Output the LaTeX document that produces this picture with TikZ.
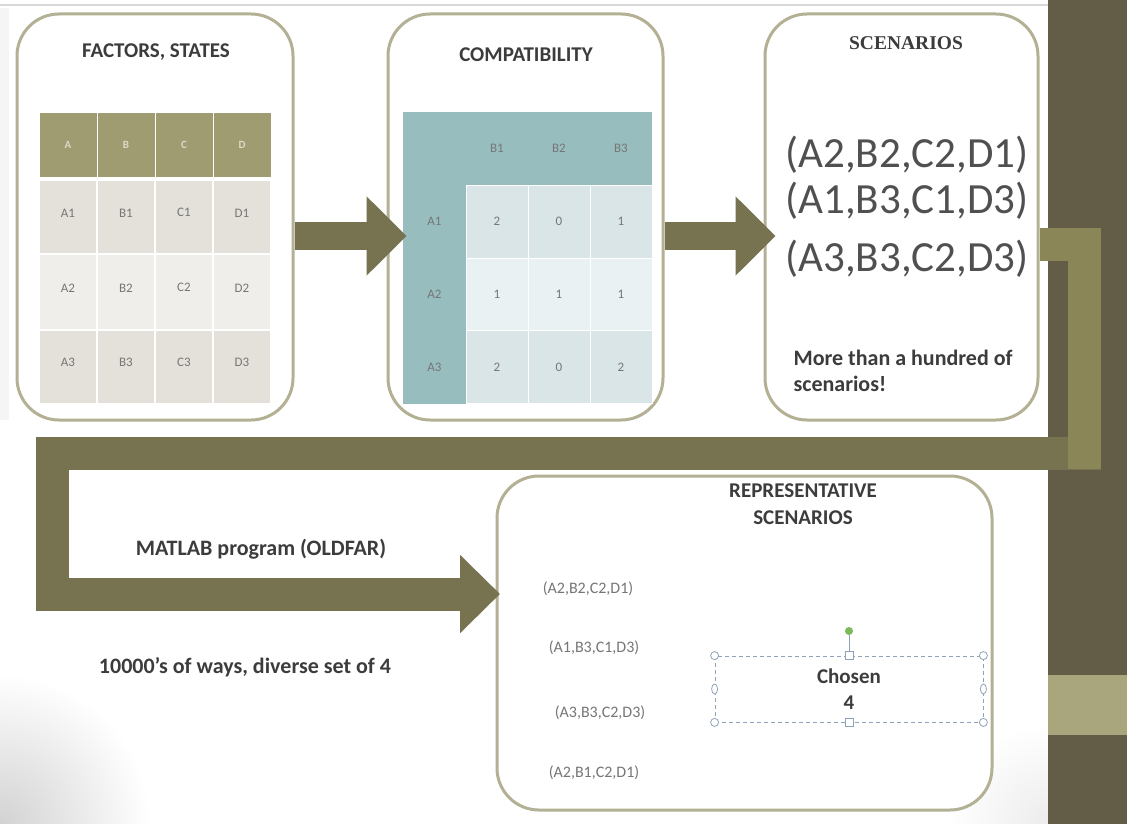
\documentclass[tikz,border=0pt]{standalone}
\usepackage{fontspec}
\setmainfont{Carlito}
\newfontfamily\titleserif{Liberation Serif}
\usetikzlibrary{arrows.meta}

\definecolor{panelline}{HTML}{B3B094}
\definecolor{olivehead}{HTML}{A09C72}
\definecolor{oliveletter}{HTML}{DCD9C6}
\definecolor{rowdark}{HTML}{E3E1DA}
\definecolor{rowlight}{HTML}{F0EEEA}
\definecolor{tealhead}{HTML}{98BDBE}
\definecolor{tealcell}{HTML}{DAE5E7}
\definecolor{teallight}{HTML}{EAF1F3}
\definecolor{flow}{HTML}{777250}
\definecolor{flowlight}{HTML}{8A8658}
\definecolor{banddark}{HTML}{635C46}
\definecolor{bandlight}{HTML}{A9A57D}
\definecolor{textgray}{HTML}{767676}
\definecolor{titlegray}{HTML}{3C3C3C}
\definecolor{handleline}{HTML}{8FA3B8}
\definecolor{rotgreen}{HTML}{7DB85A}

\tikzset{
  panel/.style={draw=panelline, line width=3pt, rounded corners=42pt, fill=white},
  paneltitle/.style={font=\fontsize{21}{27}\selectfont\bfseries, text=titlegray, align=center},
  fhead/.style={fill=olivehead, draw=white, line width=1pt, minimum width=58pt, minimum height=65pt,
    inner sep=0pt, text=oliveletter, font=\fontsize{11}{12}\selectfont\bfseries},
  fcell/.style={draw=white, line width=1.5pt, minimum width=58pt, inner sep=0pt,
    text=textgray, font=\fontsize{13}{14}\selectfont},
  tealbox/.style={fill=tealhead, minimum width=62pt, minimum height=73pt, inner sep=0pt,
    text=textgray, font=\fontsize{13}{14}\selectfont},
  ccell/.style={draw=white, line width=1pt, minimum width=62pt, minimum height=73pt, inner sep=0pt,
    text=textgray, font=\fontsize{13}{14}\selectfont},
  bigscen/.style={font=\fontsize{43}{46}\selectfont, text=titlegray!90},
  repscen/.style={font=\fontsize{16}{20}\selectfont, text=textgray},
  note/.style={font=\fontsize{22}{26}\selectfont\bfseries, text=titlegray},
  flowarrow/.style={draw=flow, line width=28pt, -{Triangle[length=40pt,width=77pt]}},
  bigflow/.style={draw=flow, line width=33pt, line join=miter, -{Triangle[length=40pt,width=76pt]}},
  chosenbox/.style={draw=handleline, line width=0.8pt, dash pattern=on 4pt off 3pt,
    minimum width=268pt, minimum height=66pt, align=center, text=titlegray,
    font=\fontsize{21}{26}\selectfont\bfseries},
  handle/.style={draw=handleline, fill=white, line width=0.8pt}
}

\begin{document}
\begin{tikzpicture}[x=1pt, y=-1pt]
\useasboundingbox (0,0) rectangle (1127,824);
\fill[white] (0,0) rectangle (1127,824);
\fill[gray!8] (0,8) rectangle (9,420);
\draw[gray!30, line width=2pt] (0,5) -- (1048,5);
\begin{scope}
  \clip (0,560) rectangle (1048,824);
  \shade[inner color=gray!35, outer color=white] (0,824) circle (150);
  \shade[inner color=gray!15, outer color=white] (1048,824) circle (100);
\end{scope}
\fill[banddark] (1048,0) rectangle (1127,824);
\fill[bandlight] (1048,675) rectangle (1127,735);

% three panels on top
\node[panel, minimum width=276pt, minimum height=406pt] (factors) at (155,217) {};
\node[panel, minimum width=275pt, minimum height=406pt] (compat) at (525.5,217) {};
\node[panel, minimum width=273pt, minimum height=406pt] (scen) at (901.5,217) {};

\node[paneltitle] (factorstitle) at (156,52) {FACTORS, STATES};
\node[paneltitle] (compattitle) at (526,55) {COMPATIBILITY};
\node[font=\titleserif\bfseries\fontsize{19.5}{22}\selectfont, text=titlegray] (scentitle) at (906,43) {SCENARIOS};

% factors table
\foreach \fac [count=\i] in {A,B,C,D} {
  \node[fhead] (fh\i) at ({10+58*\i},145) {\fac};
  \foreach \r/\y/\ht/\tint in {1/217/74/rowdark, 2/292/76/rowlight, 3/367/74/rowdark}
    \node[fcell, fill=\tint, minimum height=\ht pt] (f\r\i) at ({10+58*\i},\y) {\fac\r};
}

% compatibility table
\node[tealbox, minimum width=63pt] (corner) at (434.5,148.5) {};
\foreach \b [count=\i] in {B1,B2,B3}
  \node[tealbox] (cb\i) at ({435+62*\i},148.5) {\b};
\foreach \a/\y/\tint/\vals [count=\r] in {A1/221.5/tealcell/{2,0,1}, A2/294.5/teallight/{1,1,1}, A3/367/tealcell/{2,0,2}} {
  \node[tealbox, minimum width=63pt] (ca\r) at (434.5,\y) {\a};
  \foreach \v [count=\j] in \vals
    \node[ccell, fill=\tint] (c\r\j) at ({435+62*\j},\y) {\v};
}

% scenarios
\node[bigscen] (s1) at (907,155) {(A2,B2,C2,D1)};
\node[bigscen] (s2) at (907,201) {(A1,B3,C1,D3)};
\node[bigscen] (s3) at (907,259) {(A3,B3,C2,D3)};
\node[note, anchor=west, align=left] (many) at (790,371)
  {More than a hundred of\\scenarios!};

\draw[flowarrow] ([yshift=-19pt]factors.east) -- ([xshift=20pt,yshift=-19pt]compat.west);
\draw[flowarrow] ([yshift=-19pt]compat.east) -- ([xshift=12pt,yshift=-19pt]scen.west);

% representative scenarios
\node[panel, minimum width=495pt, minimum height=334pt] (rep) at (744.5,643) {};
\node[paneltitle] (reptitle) at (803,504) {REPRESENTATIVE\\SCENARIOS};
\node[repscen] (r1) at (588,589) {(A2,B2,C2,D1)};
\node[repscen] (r2) at (594,648) {(A1,B3,C1,D3)};
\node[repscen] (r3) at (600,713) {(A3,B3,C2,D3)};
\node[repscen] (r4) at (594,773) {(A2,B1,C2,D1)};

\coordinate (repin) at (500,594);
\draw[bigflow] ([yshift=-27pt]scen.east) -| (1084,453) -| (52,594) -- (repin);
\draw[flowlight, line width=33pt, line join=miter] ([yshift=-27pt]scen.east) -| (1084,469);
\node[note] (matlab) at (261,549) {MATLAB program (OLDFAR)};
\node[note] (ways) at (245,667) {10000’s of ways, diverse set of 4};

\node[chosenbox] (chosen) at (849,689) {Chosen\\4};
\node[circle, fill=rotgreen, inner sep=0pt, minimum size=8pt] (rot) at (849,631) {};
\draw[handleline, line width=0.8pt] (rot) -- (chosen.north);
\foreach \a in {north west, north east, south west, south east}
  \draw[handle] (chosen.\a) circle (4);
\foreach \a in {north, south}
  \draw[handle] ([shift={(-4pt,-4pt)}]chosen.\a) rectangle ++(8pt,8pt);
\foreach \a in {west, east}
  \draw[handle] (chosen.\a) ellipse (3 and 5);

\end{tikzpicture}
\end{document}
